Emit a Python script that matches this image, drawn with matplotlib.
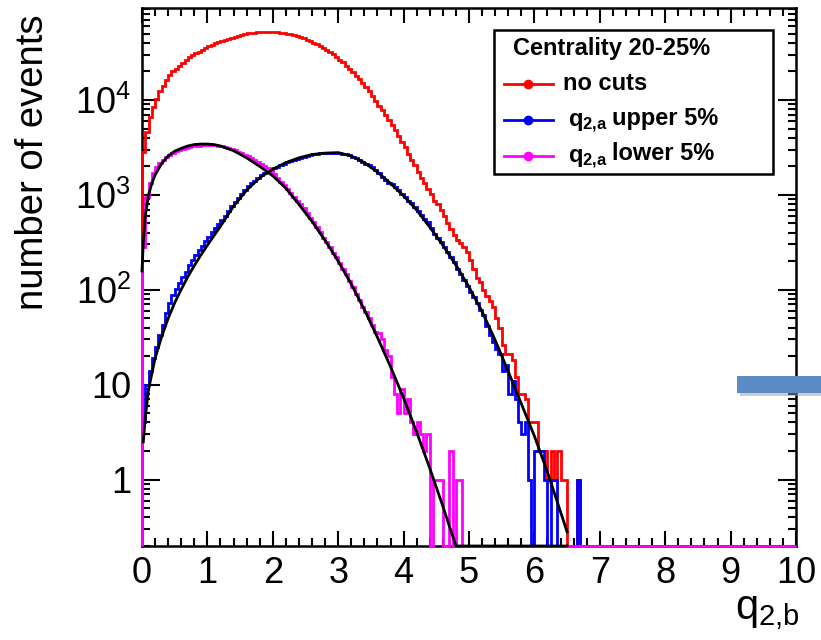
import numpy as np
import matplotlib
matplotlib.use("Agg")
import matplotlib.pyplot as plt
from matplotlib.patches import Rectangle
from matplotlib.lines import Line2D
from matplotlib.ticker import LogLocator, MultipleLocator, NullFormatter

plt.rcParams['font.family'] = ['Liberation Sans', 'DejaVu Sans']
plt.rcParams['mathtext.fontset'] = 'custom'
plt.rcParams['mathtext.rm'] = 'Liberation Sans'
plt.rcParams['mathtext.it'] = 'Liberation Sans:italic'
plt.rcParams['mathtext.bf'] = 'Liberation Sans:bold'

# histogram binning: 200 bins of 0.05 between 0 and 10
n_bins = 200
x_min, x_max = 0.0, 10.0

# counts per bin (bins past the list are empty)
no_cuts = [2820, 4571, 6607, 8511, 10233, 12303, 14125, 16218, 18197, 19953,
           21380, 22909, 24547, 26303, 28184, 29512, 30903, 32359, 33884, 35481,
           37154, 38019, 39811, 40738, 41687, 42658, 44157, 45186, 46238, 47315,
           48417, 49545, 50119, 50699, 51286, 51880, 52240, 52481, 52480, 52240,
           51880, 51523, 51050, 50466, 49774, 48978, 48084, 47098, 45709, 44668,
           43152, 41687, 40272, 38905, 37154, 35481, 33884, 31989, 30200, 28510,
           26607, 24831, 22909, 21135, 19498, 17989, 16596, 15136, 13646, 12303,
           10965, 9772, 8710, 7762, 6918, 6166, 5495, 4786, 4169, 3631,
           3162, 2692, 2344, 2042, 1738, 1514, 1318, 1148, 1023, 871,
           794, 692, 603, 501, 437, 380, 331, 309, 282, 251,
           204, 166, 132, 120, 100, 87, 76, 66, 50, 40,
           26, 21, 21, 18, 12, 8, 8, 7, 4, 4,
           4, 2, 2, 2, 1, 2, 1, 2, 1, 1,
           0, 0, 0, 1]

upper_5 = [4, 10, 14, 19, 25, 33, 43, 57, 73, 88,
           103, 117, 137, 155, 182, 205, 230, 260, 292, 324,
           363, 403, 445, 490, 540, 605, 680, 760, 845, 930,
           1023, 1122, 1230, 1318, 1413, 1514, 1622, 1698, 1758, 1820,
           1905, 1972, 2042, 2138, 2213, 2265, 2344, 2399, 2455, 2512,
           2570, 2630, 2692, 2723, 2754, 2754, 2786, 2786, 2786, 2786,
           2754, 2723, 2692, 2600, 2512, 2455, 2344, 2239, 2138, 2042,
           1950, 1820, 1698, 1549, 1445, 1349, 1288, 1202, 1122, 1023,
           955, 871, 813, 741, 676, 617, 562, 513, 447, 389,
           355, 316, 282, 251, 224, 195, 166, 145, 126, 110,
           95, 83, 72, 62, 54, 42, 33, 28, 24, 21,
           14, 16, 8, 11, 7, 4, 3, 4, 1, 0,
           2, 2, 2, 1, 0, 1, 1, 0, 0, 0,
           0, 0, 0, 1]

lower_5 = [280, 955, 1349, 1698, 1950, 2188, 2344, 2512, 2630, 2754,
           2884, 2951, 3020, 3090, 3162, 3236, 3273, 3311, 3350, 3388,
           3388, 3388, 3350, 3311, 3236, 3199, 3126, 3020, 2951, 2851,
           2754, 2661, 2570, 2455, 2344, 2239, 2138, 1995, 1905, 1778,
           1660, 1514, 1380, 1259, 1148, 1047, 955, 871, 794, 724,
           646, 575, 513, 457, 407, 355, 316, 282, 245, 219,
           191, 166, 145, 123, 107, 91, 78, 66, 58, 50,
           43, 36, 35, 30, 23, 20, 12, 8, 5, 9,
           5, 7, 4, 3, 4, 3, 2, 3, 0, 1,
           1, 1, 0, 0, 2, 0, 1, 1]

# fit curves
fit_upper_x = [0.02, 0.05, 0.1, 0.2, 0.3, 0.4, 0.5, 0.6, 0.7, 0.8, 0.9, 1.0,
               1.2, 1.4, 1.6, 1.8, 2.0, 2.2, 2.4, 2.6, 2.8, 3.0, 3.2, 3.4,
               3.6, 3.8, 4.0, 4.2, 4.4, 4.6, 4.8, 5.0, 5.2, 5.4, 5.6, 5.8,
               6.0, 6.2, 6.4, 6.5]
fit_upper_y = [2.5, 4.5, 8.9, 19.0, 32.0, 50.0, 73.0, 101, 137, 180, 232, 295,
               467, 758.6, 1122, 1514, 1862, 2188, 2455, 2661, 2754, 2786, 2570, 2188,
               1738, 1318, 977, 692, 457, 295, 182, 107, 58.9, 29.5, 13.8, 6.31,
               2.88, 1.20, 0.457, 0.282]

fit_lower_x = [0.0, 0.02, 0.05, 0.1, 0.15, 0.2, 0.3, 0.4, 0.5, 0.6, 0.7, 0.8,
               0.9, 1.0, 1.1, 1.2, 1.4, 1.6, 1.8, 2.0, 2.2, 2.4, 2.6, 2.8,
               3.0, 3.2, 3.4, 3.6, 3.8, 4.0, 4.2, 4.4, 4.6, 4.8, 5.0, 5.5,
               6.0, 6.5]
fit_lower_y = [158, 316, 603, 1000, 1318, 1622, 2138, 2570, 2884, 3090, 3273, 3388,
               3428, 3428, 3388, 3273, 2917, 2455, 1995, 1585, 1175, 794, 525, 331,
               200, 115, 61.7, 31.6, 15.5, 7.24, 3.16, 1.32, 0.525, 0.20, 0.079, 0.005,
               0.00025, 0.00001]

legend_title = "Centrality 20-25%"
legend_labels = ["no cuts", "upper 5%", "lower 5%"]
colors = ["#ff0000", "#0000ff", "#ff00ff"]

y_lo, y_hi = 0.2, 9.3e4

W, H = 821, 640
fig = plt.figure(figsize=(W / 100, H / 100), dpi=100)
ax = fig.add_axes([142 / W, 1 - 546 / H, 654 / W, 538 / H])
ax.set_yscale('log')
ax.set_xlim(x_min, x_max)
ax.set_ylim(y_lo, y_hi)

edges = np.linspace(x_min, x_max, n_bins + 1)


def full(counts):
    c = np.zeros(n_bins)
    c[:len(counts)] = counts
    return np.maximum(c, y_lo)


for counts, col in zip([no_cuts, upper_5, lower_5], colors):
    ax.stairs(full(counts), edges, baseline=y_lo, color=col, lw=2.0,
              zorder=3, clip_on=False)

for fx, fy in [(fit_upper_x, fit_upper_y), (fit_lower_x, fit_lower_y)]:
    ax.plot(fx, np.maximum(fy, y_lo), color='black', lw=2.0, zorder=4,
            clip_on=False)

for sp in ax.spines.values():
    sp.set_linewidth(1.8)
    sp.set_zorder(2.5)

ax.xaxis.set_major_locator(MultipleLocator(1))
ax.xaxis.set_minor_locator(MultipleLocator(0.2))
ax.set_yticks([1, 10, 100, 1000, 10000])
ax.set_yticklabels(['1', '10', r'$10^{2}$', r'$10^{3}$', r'$10^{4}$'])
ax.yaxis.set_minor_locator(LogLocator(base=10, subs=np.arange(2, 10)))
ax.yaxis.set_minor_formatter(NullFormatter())
ax.tick_params(which='both', direction='in', top=True, right=True, width=1.5)
ax.tick_params(axis='x', which='major', length=11, pad=7, labelsize=26)
ax.tick_params(axis='y', which='major', length=13, pad=8, labelsize=26)
ax.tick_params(which='minor', length=6)

fig.text(33 / W, 1 - 162 / H, "number of events", rotation=90, fontsize=27.5,
         ha='center', va='center')
fig.text(800 / W, 1 - 612 / H, r'$\mathrm{q}_{\mathrm{2{,}b}}$', fontsize=30,
         ha='right', va='center')


def px(x, y):
    return x / W, 1 - y / H


# legend box
lx0, ly0 = px(494, 174)
lx1, ly1 = px(773, 30)
fig.patches.append(Rectangle((lx0, ly0), lx1 - lx0, ly1 - ly0, transform=fig.transFigure,
                             fill=False, edgecolor='black', lw=1.8, zorder=5))
fig.text(*px(513, 48), legend_title, fontsize=17, fontweight='bold', ha='left', va='center')
rows = [84, 120, 156]
for col, yy in zip(colors, rows):
    x0, y0 = px(504, yy)
    x1, _ = px(553, yy)
    xm, _ = px(528, yy)
    fig.add_artist(Line2D([x0, x1], [y0, y0], color=col, lw=2.0, transform=fig.transFigure))
    fig.add_artist(Line2D([xm], [y0], color=col, marker='o', ms=6, transform=fig.transFigure))
fig.text(*px(563, 84), legend_labels[0], fontsize=17, fontweight='bold', ha='left', va='center')
for lab, yy in zip(legend_labels[1:], rows[1:]):
    fig.text(*px(568, yy + 3), r'$\mathbf{q}_{\mathbf{2{,}a}}$', fontsize=17,
             ha='left', va='center')
    fig.text(*px(612, yy - 2), lab, fontsize=17, fontweight='bold', ha='left', va='center')

# blue arrow stub on the right edge
sx0, sy0 = px(740, 396)
sx1, sy1 = px(821, 379)
fig.patches.append(Rectangle((sx0, sy0), sx1 - sx0, sy1 - sy0, transform=fig.transFigure,
                             facecolor='#9a9a9a', edgecolor='none', alpha=0.5, zorder=6))
bx0, by0 = px(737, 393)
bx1, by1 = px(821, 376)
fig.patches.append(Rectangle((bx0, by0), bx1 - bx0, by1 - by0, transform=fig.transFigure,
                             facecolor='#5b8cc6', edgecolor='none', zorder=7))

fig.savefig("out.png", dpi=100)
